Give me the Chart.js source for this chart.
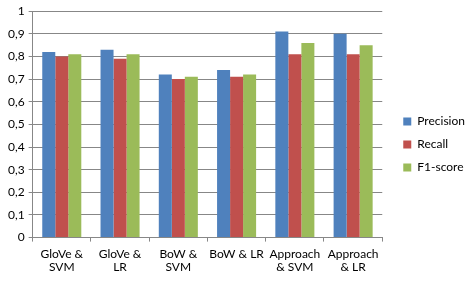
<!DOCTYPE html>
<html>
<head>
<meta charset="utf-8">
<script src="https://cdn.jsdelivr.net/npm/chart.js@4/dist/chart.umd.min.js"></script>
<style>
  html, body { margin: 0; padding: 0; background: #fff; }
  #wrap { width: 468px; height: 282px; }
</style>
</head>
<body>
<div id="wrap"><canvas id="chart" width="468" height="282"></canvas></div>
<script>
const categories = [
  ['GloVe &', 'SVM'],
  ['GloVe &', 'LR'],
  ['BoW &', 'SVM'],
  'BoW & LR',
  ['Approach', '& SVM'],
  ['Approach', '& LR'],
];
const precision = [0.82, 0.83, 0.72, 0.74, 0.91, 0.90];
const recall    = [0.80, 0.79, 0.70, 0.71, 0.81, 0.81];
const f1score   = [0.81, 0.81, 0.71, 0.72, 0.86, 0.85];

const FONT = 'Lato, "Open Sans", sans-serif';
const gridColor = '#878787';

const mkSet = (label, data, color) => ({
  label, data,
  backgroundColor: color,
  borderWidth: 0,
  barPercentage: 1,
  categoryPercentage: 0.67,
});

// push legend items a bit further from the plot, like the original
const legendShift = {
  id: 'legendShift',
  afterLayout(chart) {
    if (chart.legend) chart.legend.left += 10;
  }
};

new Chart(document.getElementById('chart'), {
  type: 'bar',
  data: {
    labels: categories,
    datasets: [
      mkSet('Precision', precision, '#4F81BD'),
      mkSet('Recall', recall, '#C0504D'),
      mkSet('F1-score', f1score, '#9BBB59'),
    ]
  },
  plugins: [legendShift],
  options: {
    responsive: false,
    animation: false,
    layout: { padding: { top: 9, left: 4, right: 3, bottom: 2 } },
    plugins: {
      tooltip: { enabled: false },
      legend: {
        position: 'right',
        labels: {
          boxWidth: 8, boxHeight: 8, padding: 11,
          color: '#000',
          font: { family: FONT, size: 12 },
        }
      }
    },
    scales: {
      x: {
        grid: { display: true, drawOnChartArea: false, drawTicks: true, tickLength: 4, color: gridColor, offset: true },
        border: { color: gridColor },
        ticks: { color: '#000', font: { family: FONT, size: 12, lineHeight: 1.1 }, maxRotation: 0, autoSkip: false, padding: 6 }
      },
      y: {
        min: 0, max: 1,
        grid: { color: gridColor, tickLength: 4 },
        border: { color: gridColor },
        ticks: {
          stepSize: 0.1,
          color: '#000',
          font: { family: FONT, size: 12 },
          padding: 4,
          callback: v => Math.round(v * 10) === 10 ? '1' : Math.round(v * 10) === 0 ? '0' : (v.toFixed(1)).replace('.', ',')
        }
      }
    }
  }
});
</script>
</body>
</html>
